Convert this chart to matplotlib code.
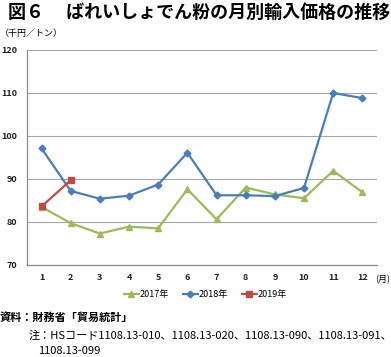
import matplotlib
matplotlib.use("Agg")
import matplotlib.pyplot as plt

plt.rcParams['font.family'] = ['Noto Sans CJK JP', 'DejaVu Sans']

months = [1, 2, 3, 4, 5, 6, 7, 8, 9, 10, 11, 12]
month_labels = [str(m) for m in months]
y2017 = [83.5, 79.7, 77.3, 78.9, 78.5, 87.6, 80.6, 88.0, 86.4, 85.5, 91.9, 86.9]
y2018 = [97.1, 87.2, 85.4, 86.1, 88.7, 96.1, 86.2, 86.2, 86.0, 87.9, 110.0, 108.8]
y2019 = [83.6, 89.7]
yticks = [70, 80, 90, 100, 110, 120]

fig = plt.figure(figsize=(3.91, 3.57), dpi=100)
ax = fig.add_axes([0.069, 0.258, 0.895, 0.602])

ax.plot(months, y2017, color='#9BBB59', lw=1.6, marker='^', ms=5, label='2017年')
ax.plot(months, y2018, color='#4A7EBB', lw=1.6, marker='D', ms=3.5, label='2018年')
ax.plot(months[:len(y2019)], y2019, color='#BE4B48', lw=1.6, marker='s', ms=5, label='2019年')

ax.set_xlim(0.5, 12.5)
ax.set_ylim(70, 120)
ax.set_yticks(yticks)
ax.set_xticks(months)
ax.set_xticklabels(month_labels)
ax.tick_params(length=0, labelsize=6.5, pad=6)
ax.tick_params(axis='y', pad=7)
for lab in ax.get_xticklabels() + ax.get_yticklabels():
    lab.set_fontweight('bold')
    lab.set_color('#222222')
ax.grid(axis='y', color='#A6A6A6', lw=0.8)
ax.set_axisbelow(True)
for s in ['top', 'right']:
    ax.spines[s].set_visible(False)
for s in ['left', 'bottom']:
    ax.spines[s].set_color('#8C8C8C')
    ax.spines[s].set_linewidth(0.9)

fig.text(0.02, 0.965, '図６　 ばれいしょでん粉の月別輸入価格の推移', fontsize=13,
         fontweight='bold', va='center', ha='left')
fig.text(0.0, 0.905, '（千円／トン）', fontsize=6.5, va='center', ha='left')
fig.text(0.997, 0.217, '(月)', fontsize=6.5, va='center', ha='right')

ax.legend(loc='upper center', bbox_to_anchor=(0.51, -0.1), ncol=3, frameon=False,
          fontsize=6.5, handlelength=1.6, handletextpad=0.1, columnspacing=1.6,
          borderaxespad=0)

fig.text(0.0, 0.11, '資料：財務省「貿易統計」', fontsize=8.0, fontweight='bold',
         va='center', ha='left')
fig.text(0.072, 0.059, '注：HSコード1108.13-010、1108.13-020、1108.13-090、1108.13-091、',
         fontsize=8.0, va='center', ha='left')
fig.text(0.097, 0.017, '1108.13-099', fontsize=8.0, va='center', ha='left')

fig.savefig('out.png', dpi=100)
